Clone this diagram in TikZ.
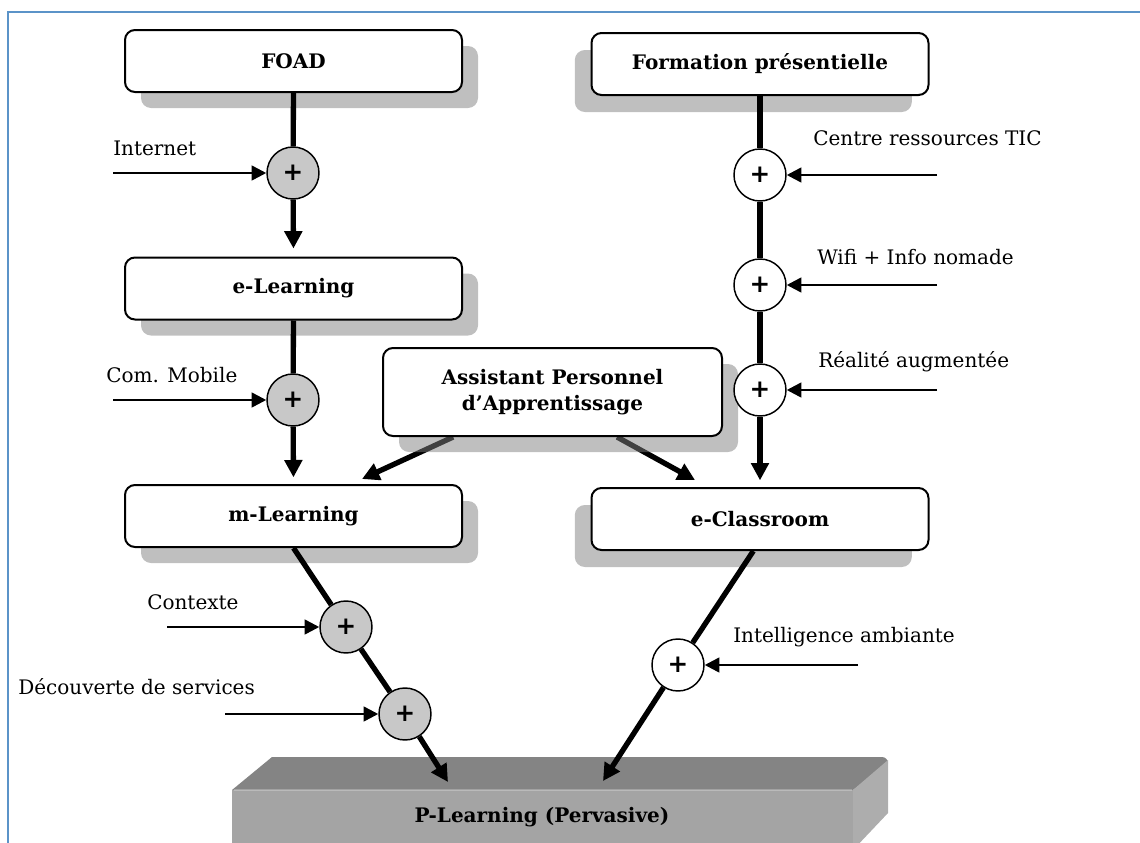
\documentclass[tikz,border=0pt]{standalone}
\usepackage{fontspec}
\setmainfont{DejaVu Serif}
\newfontfamily\plusfont{DejaVu Sans}
\usetikzlibrary{arrows.meta,shadows,backgrounds}
\definecolor{frameblue}{HTML}{5B93C8}
\definecolor{circgray}{HTML}{C8C8C8}
\definecolor{slabtop}{HTML}{848484}
\definecolor{slabfront}{HTML}{A4A4A4}
\definecolor{slabside}{HTML}{ADADAD}
\begin{document}
\begin{tikzpicture}[x=0.75pt,y=-0.75pt,
  box/.style={draw, line width=1.5pt, rounded corners=7.5pt, fill=white,
    minimum width=252.75pt, minimum height=46.5pt, inner sep=0pt, align=center,
    font=\fontsize{15}{18}\selectfont\bfseries},
  shadowR/.style={drop shadow={shadow xshift=12pt, shadow yshift=-12pt}},
  shadowL/.style={drop shadow={shadow xshift=-12.5pt, shadow yshift=-12.75pt}},
  circ/.style={circle, draw, line width=1.1pt, minimum size=39pt, inner sep=0pt,
    font=\plusfont\bfseries\fontsize{18.5}{18.5}\selectfont},
  gcirc/.style={circ, fill=circgray},
  wcirc/.style={circ, fill=white},
  lab/.style={font=\fontsize{15}{18}\selectfont, inner sep=0pt, anchor=west},
  mainline/.style={line width=4pt},
  bigarrow/.style={line width=4pt, -{Triangle[width=13pt,length=13pt]}},
  smallarrow/.style={line width=1.9pt, -{Triangle[width=11pt,length=11pt]}}
]
\useasboundingbox (0,0) rectangle (1140,843);

% frame
\draw[frameblue, line width=1.9pt] (8,860) -- (8,12) -- (1150,12);

% P-Learning slab
\fill[slabtop] (272,757) -- (882,757) to[out=0,in=90] (888,763) -- (853,790) -- (232,790) -- cycle;
\fill[slabfront] (232,790) rectangle (853,860);
\fill[slabside] (853,790) -- (888,760) -- (888,813) -- (853,850) -- cycle;
\draw[white, opacity=0.25, line width=1pt] (234,790) -- (852,790);
\node[font=\fontsize{15}{18}\selectfont\bfseries, inner sep=0pt] (pl) at (542,817) {P-Learning (Pervasive)};

% boxes
\node[box, shadowR] (foad) at (293.5,61) {FOAD};
\node[box, shadowR] (el) at (293.5,288.5) {e-Learning};
\node[box, shadowR] (ml) at (293.5,516) {m-Learning};
\node[box, shadowL] (form) at (760,64) {Formation présentielle};
\node[box, shadowL] (ec) at (760,519) {e-Classroom};
\node[box, shadowR, minimum width=254.25pt, minimum height=66pt, font=\fontsize{15}{20}\selectfont\bfseries] (apa) at (552.5,392) {Assistant Personnel\\d’Apprentissage};

% circles
\node[gcirc] (c1) at (293,173) {+};
\node[gcirc] (c2) at (293,400) {+};
\node[gcirc] (c3) at (346,627) {+};
\node[gcirc] (c4) at (405,714) {+};
\node[wcirc] (r1) at (760,175) {+};
\node[wcirc] (r2) at (760,285) {+};
\node[wcirc] (r3) at (760,390) {+};
\node[wcirc] (r4) at (678,665) {+};

% labels
\node[lab] (l1) at (113,148) {Internet};
\node[lab] (l2) at (106,375) {Com. Mobile};
\node[lab] (l3) at (147,602) {Contexte};
\node[lab] (l4) at (18,687) {Découverte de services};
\node[lab] (l5) at (813,138) {Centre ressources TIC};
\node[lab] (l6) at (817,257) {Wifi + Info nomade};
\node[lab] (l7) at (818,362) {Réalité augmentée};
\node[lab] (l8) at (733,637) {Intelligence ambiante};

% free ends
\coordinate (s1) at (113,173);
\coordinate (s2) at (113,400);
\coordinate (s3) at (167,627);
\coordinate (s4) at (225,714);
\coordinate (s5) at (937,175);
\coordinate (s6) at (937,285);
\coordinate (s7) at (937,390);
\coordinate (s8) at (858,665);
\coordinate (tl) at (448,782);
\coordinate (tr) at (603,781);
\coordinate (tm) at (362,479);
\coordinate (te) at (695,480);

% APA arrows below its shadow
\begin{pgfonlayer}{background}
\draw[bigarrow] ([xshift=-74.5pt]apa.south) -- (tm);
\draw[bigarrow] ([xshift=48.4pt]apa.south) -- (te);
\end{pgfonlayer}

% main flow
\draw[mainline] (foad.south) -- (c1);
\draw[bigarrow, shorten >=6pt] (c1) -- (el.north);
\draw[mainline] (el.south) -- (c2);
\draw[bigarrow, shorten >=5pt] (c2) -- (ml.north);
\draw[mainline] (ml.south) -- (c3);
\draw[mainline] (c3) -- (c4);
\draw[bigarrow] (c4) -- (tl);

\draw[mainline] (form.south) -- (r1);
\draw[mainline] (r1) -- (r2);
\draw[mainline] (r2) -- (r3);
\draw[bigarrow, shorten >=5pt] (r3) -- (ec.north);
\draw[mainline] ([xshift=-5pt]ec.south) -- (r4);
\draw[bigarrow] (r4) -- (tr);

% inputs
\draw[smallarrow] (s1) -- (c1);
\draw[smallarrow] (s2) -- (c2);
\draw[smallarrow] (s3) -- (c3);
\draw[smallarrow] (s4) -- (c4);
\draw[smallarrow] (s5) -- (r1);
\draw[smallarrow] (s6) -- (r2);
\draw[smallarrow] (s7) -- (r3);
\draw[smallarrow] (s8) -- (r4);
\end{tikzpicture}
\end{document}
